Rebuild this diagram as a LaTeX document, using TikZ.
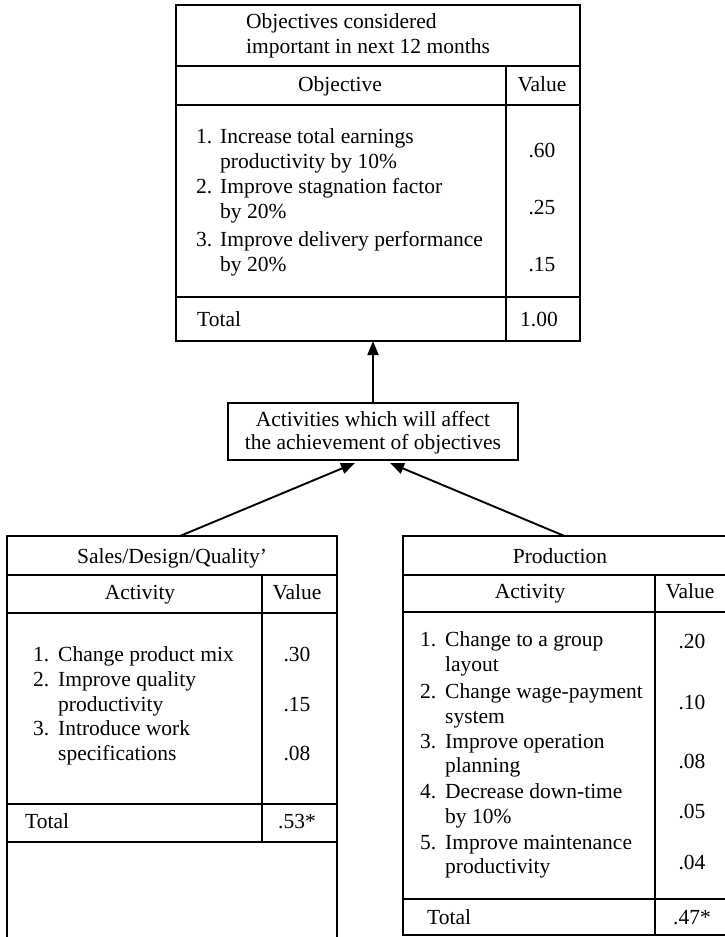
\documentclass[tikz,border=0pt]{standalone}
\usepackage{fontspec}
\setmainfont{Liberation Serif}
\usetikzlibrary{arrows.meta,calc}
\begin{document}
\begin{tikzpicture}[x=1pt,y=-1pt,
  box/.style={draw, line width=1.7pt, inner sep=0pt, outer sep=0pt, anchor=north west},
  rule/.style={line width=1.5pt},
  txt/.style={inner sep=0pt, font=\fontsize{21.5}{25}\selectfont},
  lt/.style={txt, anchor=base west},
  ct/.style={txt, anchor=base},
  arr/.style={line width=1.9pt, -{Triangle[length=14pt,width=11pt]}}
]
\path[use as bounding box] (0,0) rectangle (724,937);

% ---------- top box ----------
\node[box, minimum width=404pt, minimum height=336pt] (top) at (176,5) {};
\draw[rule] (176,66) -- (580,66);
\draw[rule] (176,105) -- (580,105);
\draw[rule] (176,297) -- (580,297);
\draw[rule] (506,66) -- (506,341);
\node[lt] (t1) at (246,28) {Objectives considered};
\node[lt] (t2) at (246,53) {important in next 12 months};
\node[ct] (th1) at (340,91) {Objective};
\node[ct] (th2) at (542,91) {Value};
\node[lt] (tn1) at (196,143) {1.};
\node[lt] (ti1a) at (220,143) {Increase total earnings};
\node[lt] (ti1b) at (220,168) {productivity by 10\%};
\node[lt] (tn2) at (196,193) {2.};
\node[lt] (ti2a) at (220,193) {Improve stagnation factor};
\node[lt] (ti2b) at (220,218) {by 20\%};
\node[lt] (tn3) at (196,246) {3.};
\node[lt] (ti3a) at (220,246) {Improve delivery performance};
\node[lt] (ti3b) at (220,271) {by 20\%};
\node[ct] (tv1) at (542,157) {.60};
\node[ct] (tv2) at (542,214) {.25};
\node[ct] (tv3) at (542,271) {.15};
\node[lt] (ttot) at (197,326) {Total};
\node[ct] (ttv) at (539,326) {1.00};

% ---------- activities box ----------
\node[box, minimum width=290pt, minimum height=57pt] (act) at (228,403) {};
\node[ct] (a1) at (373,426) {Activities which will affect};
\node[ct] (a2) at (373,449) {the achievement of objectives};

% ---------- left box ----------
\node[box, minimum width=330pt, minimum height=404pt] (lbox) at (7,536) {};
\draw[rule] (7,575) -- (337,575);
\draw[rule] (7,613) -- (337,613);
\draw[rule] (7,804) -- (337,804);
\draw[rule] (7,842) -- (337,842);
\draw[rule] (262,575) -- (262,842);
\node[ct] (lt0) at (172,563) {Sales/Design/Quality\textquoteright};
\node[ct] (lh1) at (140,599) {Activity};
\node[ct] (lh2) at (297,599) {Value};
\node[lt] (ln1) at (33,661) {1.};
\node[lt] (li1) at (58,661) {Change product mix};
\node[lt] (ln2) at (33,686) {2.};
\node[lt] (li2a) at (58,686) {Improve quality};
\node[lt] (li2b) at (58,711) {productivity};
\node[lt] (ln3) at (33,735) {3.};
\node[lt] (li3a) at (58,735) {Introduce work};
\node[lt] (li3b) at (58,760) {specifications};
\node[ct] (lv1) at (297,661) {.30};
\node[ct] (lv2) at (297,711) {.15};
\node[ct] (lv3) at (297,760) {.08};
\node[lt] (ltot) at (25,828) {Total};
\node[ct] (ltv) at (297,828) {.53*};

% ---------- right box ----------
\node[box, minimum width=323pt, minimum height=399pt] (rbox) at (403,536) {};
\draw[rule] (403,575) -- (726,575);
\draw[rule] (403,612) -- (726,612);
\draw[rule] (403,899) -- (726,899);
\draw[rule] (655,575) -- (655,935);
\node[ct] (rt0) at (560,563) {Production};
\node[ct] (rh1) at (530,598) {Activity};
\node[ct] (rh2) at (690,598) {Value};
\node[lt] (rn1) at (420,646) {1.};
\node[lt] (ri1a) at (445,646) {Change to a group};
\node[lt] (ri1b) at (445,671) {layout};
\node[lt] (rn2) at (420,698) {2.};
\node[lt] (ri2a) at (445,698) {Change wage-payment};
\node[lt] (ri2b) at (445,723) {system};
\node[lt] (rn3) at (420,748) {3.};
\node[lt] (ri3a) at (445,748) {Improve operation};
\node[lt] (ri3b) at (445,772) {planning};
\node[lt] (rn4) at (420,798) {4.};
\node[lt] (ri4a) at (445,798) {Decrease down-time};
\node[lt] (ri4b) at (445,823) {by 10\%};
\node[lt] (rn5) at (420,849) {5.};
\node[lt] (ri5a) at (445,849) {Improve maintenance};
\node[lt] (ri5b) at (445,873) {productivity};
\node[ct] (rv1) at (692,648) {.20};
\node[ct] (rv2) at (692,709) {.10};
\node[ct] (rv3) at (692,768) {.08};
\node[ct] (rv4) at (692,818) {.05};
\node[ct] (rv5) at (692,869) {.04};
\node[lt] (rtot) at (427,924) {Total};
\node[ct] (rtv) at (692,924) {.47*};

% ---------- arrows ----------
\draw[arr] (act.north) -- (act.north |- top.south);
\draw[arr] ($(lbox.north)+(8,0)$) -- ($(act.south)+(-18,3)$);
\draw[arr] (rbox.north) -- ($(act.south)+(17,3)$);
\end{tikzpicture}
\end{document}
